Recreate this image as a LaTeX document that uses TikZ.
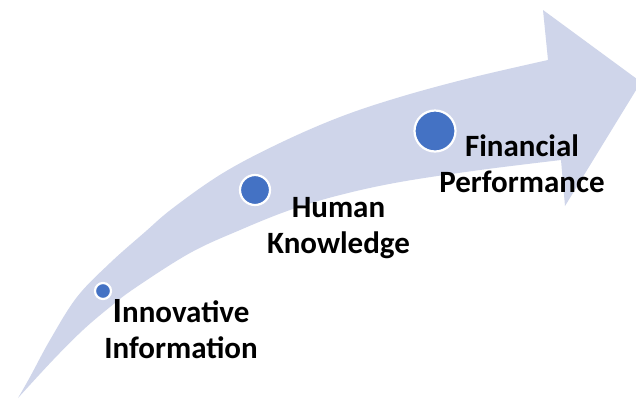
\documentclass[tikz,border=0pt]{standalone}
\usepackage{fontspec}
\setmainfont{Carlito}
\begin{document}
\begin{tikzpicture}[x=1pt,y=-1pt,
  band/.style={fill=bandfill},
  milestone/.style={circle,fill=dotblue,draw=white,line width=2.2pt,inner sep=0pt},
  caption/.style={font=\fontsize{31}{36}\selectfont\bfseries,align=center,anchor=base,inner sep=0pt,text=black}]
\definecolor{bandfill}{HTML}{CFD5EA}
\definecolor{dotblue}{HTML}{4472C4}
\useasboundingbox (0,0) rectangle (636,400);
\fill[white] (0,0) rectangle (636,400);

% rising curved arrow
\begin{scope}
\clip (0,0) rectangle (636,400);
\fill[band] plot[smooth,tension=0.6] coordinates {(18,398) (30,377) (50,340) (77,297) (110,263) (145,232) (173,208) (223,173) (280,143) (340,117) (400,97) (470,78) (548,60)}
  -- (543,10) -- (641,82) -- (565,206)
  -- plot[smooth,tension=0.6] coordinates {(561,160) (480,170) (400,182) (340,195) (290,210) (240,230) (190,253) (135,288) (110,307) (83,330) (53,360) (18,398)}
  -- cycle;
\end{scope}

% milestones along the arrow
\node[milestone,minimum size=16pt] (d1) at (103,291) {};
\node[milestone,minimum size=30pt] (d2) at (255,190) {};
\node[milestone,minimum size=41pt] (d3) at (435,131) {};

% stage labels (anchored at the baseline of the second line)
\node[caption] (t1) at (181,358) {{\fontsize{35.5}{36}\selectfont I}nnovative\\Information};
\node[caption] (t2) at (338.5,253) {Human\\Knowledge};
\node[caption] (t3) at (522,192) {Financial\\Performance};
\end{tikzpicture}
\end{document}
